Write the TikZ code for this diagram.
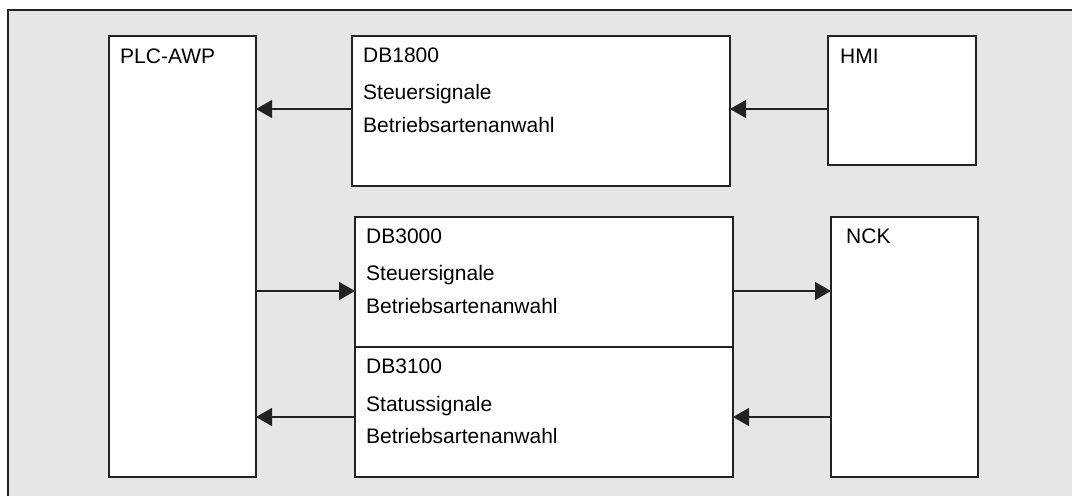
\documentclass[tikz,border=0pt]{standalone}
\usepackage{fontspec}
\setmainfont{Liberation Sans}
\usetikzlibrary{arrows.meta}
\definecolor{bggray}{HTML}{E6E6E6}
\definecolor{linec}{HTML}{222222}
\begin{document}
\begin{tikzpicture}[x=1pt,y=-1pt,
  box/.style={draw=linec,line width=1.4pt,fill=white,inner sep=0pt,outer sep=0pt,anchor=north west},
  lbl/.style={anchor=base west,inner sep=0pt,font=\fontsize{21}{25}\selectfont,text=black},
  arr/.style={draw=linec,line width=1.1pt,-{Triangle[length=16pt,width=18pt]}}]
\useasboundingbox (0,0) rectangle (1072,496);
\fill[white] (0,0) rectangle (1072,496);
\fill[bggray] (8,10) rectangle (1072,496);
\draw[linec,line width=1.4pt] (8,496) -- (8,10) -- (1072,10);
% boxes
\node[box,minimum width=147pt,minimum height=441pt] (plc) at (109,36) {};
\node[box,minimum width=378pt,minimum height=150pt] (db18) at (352,36) {};
\node[box,minimum width=148pt,minimum height=129pt] (hmi) at (828,36) {};
\node[box,minimum width=378pt,minimum height=130pt] (db30) at (355,217) {};
\node[box,minimum width=378pt,minimum height=130pt] (db31) at (355,347) {};
\node[box,minimum width=147pt,minimum height=260pt] (nck) at (831,217) {};
% labels
\node[lbl] (tplc) at (120,63) {PLC-AWP};
\node[lbl] (thmi) at (840,63) {HMI};
\node[lbl] (tnck) at (846,243) {NCK};
\node[lbl] (t18a) at (363,62) {DB1800};
\node[lbl] (t18b) at (363,99) {Steuersignale};
\node[lbl] (t18c) at (363,132) {Betriebsartenanwahl};
\node[lbl] (t30a) at (366,243) {DB3000};
\node[lbl] (t30b) at (366,280) {Steuersignale};
\node[lbl] (t30c) at (366,313) {Betriebsartenanwahl};
\node[lbl] (t31a) at (366,373) {DB3100};
\node[lbl] (t31b) at (366,411) {Statussignale};
\node[lbl] (t31c) at (366,443) {Betriebsartenanwahl};
% arrows
\draw[arr] (db18.west |- 0,109) -- (plc.east |- 0,109);
\draw[arr] (hmi.west |- 0,109) -- (db18.east |- 0,109);
\draw[arr] (plc.east |- 0,291) -- (db30.west |- 0,291);
\draw[arr] (db30.east |- 0,291) -- (nck.west |- 0,291);
\draw[arr] (nck.west |- 0,417) -- (db31.east |- 0,417);
\draw[arr] (db31.west |- 0,417) -- (plc.east |- 0,417);
\end{tikzpicture}
\end{document}
